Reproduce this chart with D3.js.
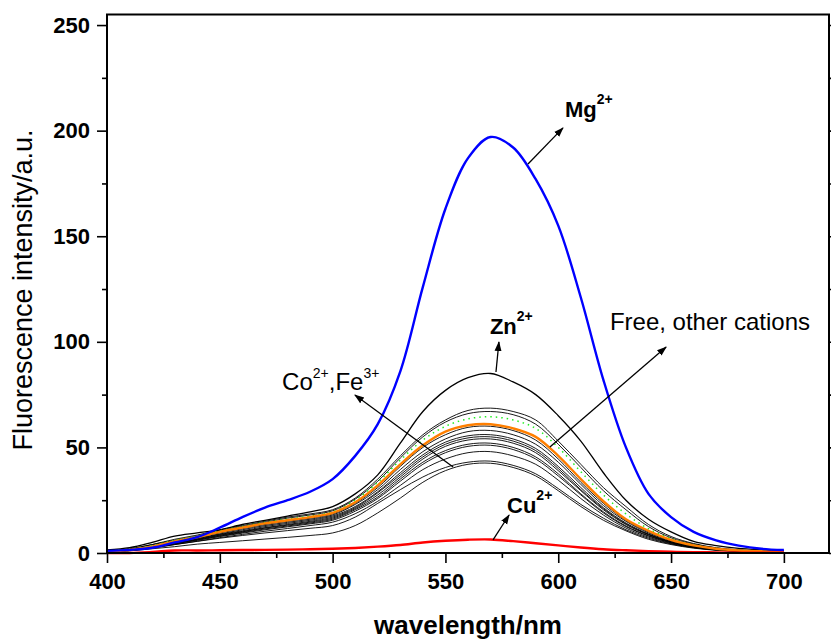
<!DOCTYPE html>
<html>
<head>
<meta charset="utf-8">
<script src="https://cdn.jsdelivr.net/npm/d3@7"></script>
<style>
  body { margin: 0; background: #fff; }
  svg { display: block; }
  text { font-family: "Liberation Sans", Arial, Helvetica, sans-serif; }
</style>
</head>
<body>
<div id="chart"></div>
<script>
// wavelengths (nm), one point every 10 nm
var wavelengths = [400, 410, 420, 430, 440, 450, 460, 470, 480, 490, 500,
  510, 520, 530, 540, 550, 560, 570, 580, 590, 600,
  610, 620, 630, 640, 650, 660, 670, 680, 690, 700];

var mg = [1, 1.5, 2.5, 5, 7.5, 12, 17, 21.5, 25, 29, 35,
  46, 61, 86, 126, 163, 187, 197, 192, 177, 155,
  121, 82, 50, 28, 17, 10, 6, 3.5, 2, 1.4];
var zn = [1.5, 2.5, 5, 8, 9.5, 11, 13.5, 15.5, 17.5, 19.5, 22,
  28, 37, 52, 67, 77, 83, 85, 81, 75, 65,
  53, 38, 25, 16, 10, 5.5, 3.5, 2.2, 1.5, 1];
var cu = [0, 0, 0.5, 1.2, 1.2, 1.3, 1.4, 1.5, 1.6, 1.8, 2,
  2.4, 3, 3.8, 5, 5.8, 6.3, 6.4, 5.6, 4.6, 3.6,
  2.6, 1.8, 1.3, 0.9, 0.6, 0.4, 0.3, 0.2, 0.1, 0.1];
var free = [0.5, 1.5, 3, 5.5, 7.5, 10, 12, 14, 15.5, 17, 19,
  24, 32, 42, 51, 57.5, 60.5, 61, 59, 55, 46,
  35, 24.5, 16, 10.5, 6.2, 3.6, 2, 1.2, 0.8, 0.5];
var dotted = [0.8, 1.8, 3.5, 6, 8, 10.5, 12.5, 14.5, 16, 17.5, 19.5,
  25, 33.5, 44, 53.5, 60, 63.5, 64.5, 63, 59, 50,
  38.5, 27.5, 18.5, 11.5, 6.8, 3.9, 2.2, 1.3, 0.8, 0.5];

// other cations (thin black)
var ionA = [1, 2, 4, 6.5, 8.5, 11, 13, 15, 17, 18.5, 20.5, 26, 35, 46, 56, 63, 67.5, 68.6, 67, 63, 53, 42, 31, 22, 13.5, 7.8, 4.5, 2.5, 1.5, 0.9, 0.6];
var ionB = [1, 2, 4, 6, 8, 10.5, 12.5, 14.5, 16.5, 18, 20, 25.5, 34, 45, 55, 62, 66, 67, 65.5, 61, 51.5, 40.5, 29.5, 20.5, 12.5, 7.2, 4.2, 2.4, 1.4, 0.9, 0.6];
var ionC = [0.8, 1.6, 3.2, 5.5, 7.5, 9.5, 11.5, 13.5, 15, 16.5, 18.5, 23.5, 31, 41, 50, 56, 59.5, 60, 58, 53.5, 44.5, 33.5, 23.5, 15.5, 10, 6, 3.4, 1.9, 1.1, 0.7, 0.5];
var ionD = [0.7, 1.5, 3, 5.2, 7, 9, 11, 13, 14.5, 16, 18, 23, 30, 39.5, 48, 54, 57.5, 58, 56, 51.5, 43, 32.5, 22.5, 15, 9.5, 5.7, 3.3, 1.9, 1.1, 0.7, 0.5];
var ionE = [0.7, 1.5, 3, 5, 6.8, 8.8, 10.5, 12.5, 14, 15.5, 17.5, 22, 29, 38, 46.5, 52.5, 55.5, 56, 54, 49.5, 41, 31, 21.5, 14.2, 9, 5.4, 3.1, 1.8, 1.1, 0.7, 0.5];
var ionF = [0.6, 1.4, 2.8, 4.8, 6.5, 8.5, 10.2, 12, 13.5, 15, 17, 21.5, 28.5, 37, 45.5, 51.5, 54.5, 55, 53, 48.5, 40, 30, 21, 13.8, 8.8, 5.2, 3, 1.7, 1, 0.6, 0.4];
var ionG = [0.6, 1.4, 2.8, 4.7, 6.4, 8.3, 10, 11.8, 13.2, 14.6, 16.5, 21, 27.5, 36, 44.5, 50.5, 53.5, 54, 52, 47.5, 39, 29.5, 20.5, 13.5, 8.6, 5.1, 2.9, 1.7, 1, 0.6, 0.4];
var ionH = [0.6, 1.3, 2.6, 4.5, 6.2, 8, 9.7, 11.4, 12.8, 14.2, 16, 20.5, 26.5, 35, 43, 48.5, 51.5, 52, 50, 45.5, 37.5, 28, 19.5, 12.8, 8.2, 4.9, 2.8, 1.6, 1, 0.6, 0.4];
var ionI = [0.5, 1.2, 2.5, 4.3, 6, 7.8, 9.4, 11, 12.4, 13.8, 15.5, 19.8, 25.8, 34, 42, 47.5, 50.5, 51, 49, 44.5, 36.5, 27.5, 19, 12.5, 8, 4.8, 2.7, 1.5, 0.9, 0.6, 0.4];
var ionJ = [0.5, 1.1, 2.3, 4, 5.6, 7.3, 8.8, 10.3, 11.6, 13, 14.6, 18.6, 24.5, 32, 39.5, 44.5, 47.5, 48, 46, 42, 34.5, 25.8, 18, 11.8, 7.5, 4.5, 2.6, 1.5, 0.9, 0.5, 0.3];
var co = [0.5, 1, 2, 3, 4.2, 5, 5.8, 6.6, 7.4, 8.3, 9.5, 13, 19, 26, 33.5, 39, 42, 42.5, 40.5, 36.5, 29.5, 22, 15.5, 10.5, 6.5, 4, 2.3, 1.3, 0.8, 0.5, 0.3];
var fe = [0.6, 1.3, 2.5, 4, 5.5, 7, 8.3, 9.5, 10.6, 11.7, 13, 17, 23.5, 30, 36, 40.5, 43, 43.5, 41.5, 37.5, 30.5, 23, 16.5, 11, 7, 4.3, 2.5, 1.4, 0.8, 0.5, 0.3];

var xTicks = [400, 450, 500, 550, 600, 650, 700];
var xMinor = [425, 475, 525, 575, 625, 675];
var yTicks = [0, 50, 100, 150, 200, 250];
var yMinor = [25, 75, 125, 175, 225];

var width = 831, height = 641;
var plotLeft = 107, plotRight = 829, plotTop = 14.5, plotBottom = 553;

var svg = d3.select('#chart').append('svg')
  .attr('width', width)
  .attr('height', height);

var x = d3.scaleLinear().domain([400, 720]).range([plotLeft, plotRight]);
var y = d3.scaleLinear().domain([0, 255]).range([plotBottom, plotTop]);

var line = d3.line()
  .x(function(d, i) { return x(wavelengths[i]); })
  .y(function(d) { return y(d); })
  .curve(d3.curveCatmullRom.alpha(0.5));

// black bundle first, coloured lines on top
var blackSeries = [ionA, ionB, ionC, ionD, ionE, ionF, ionG, ionH, ionI, ionJ, co, fe];
svg.append('g').selectAll('path')
  .data(blackSeries)
  .enter().append('path')
  .attr('d', line)
  .attr('fill', 'none')
  .attr('stroke', '#000')
  .attr('stroke-width', 0.9);

svg.append('path').attr('d', line(zn))
  .attr('fill', 'none').attr('stroke', '#000').attr('stroke-width', 1.3);
svg.append('path').attr('d', line(dotted))
  .attr('fill', 'none').attr('stroke', '#22ee22').attr('stroke-width', 1.5)
  .attr('stroke-dasharray', '1.5,4');
svg.append('path').attr('d', line(free))
  .attr('fill', 'none').attr('stroke', '#ff7f00').attr('stroke-width', 2.4);
svg.append('path').attr('d', line(cu))
  .attr('fill', 'none').attr('stroke', '#ff0000').attr('stroke-width', 2.4);
svg.append('path').attr('d', line(mg))
  .attr('fill', 'none').attr('stroke', '#0000ff').attr('stroke-width', 2.4);

// axes
var tickFont = function(g) {
  g.select('.domain').remove();
  g.selectAll('text')
    .style('font-size', '22px')
    .style('font-weight', 'bold')
    .attr('fill', '#000');
  g.selectAll('line').attr('stroke', '#000').attr('stroke-width', 1.6);
};

svg.append('g')
  .attr('transform', 'translate(0,' + plotBottom + ')')
  .call(d3.axisBottom(x).tickValues(xTicks).tickSize(10).tickPadding(10))
  .call(tickFont);
svg.append('g')
  .attr('transform', 'translate(0,' + plotBottom + ')')
  .call(d3.axisBottom(x).tickValues(xMinor).tickSize(5).tickFormat(''))
  .call(tickFont);
svg.append('g')
  .attr('transform', 'translate(' + plotLeft + ',0)')
  .call(d3.axisLeft(y).tickValues(yTicks).tickSize(10).tickPadding(7))
  .call(tickFont);
svg.append('g')
  .attr('transform', 'translate(' + plotLeft + ',0)')
  .call(d3.axisLeft(y).tickValues(yMinor).tickSize(5).tickFormat(''))
  .call(tickFont);
svg.append('g')
  .attr('transform', 'translate(' + plotRight + ',0)')
  .call(d3.axisRight(y).tickValues(yTicks).tickSize(10).tickFormat(''))
  .call(tickFont);
svg.append('g')
  .attr('transform', 'translate(' + plotRight + ',0)')
  .call(d3.axisRight(y).tickValues(yMinor).tickSize(5).tickFormat(''))
  .call(tickFont);

svg.append('rect')
  .attr('x', plotLeft).attr('y', plotTop)
  .attr('width', plotRight - plotLeft).attr('height', plotBottom - plotTop)
  .attr('fill', 'none')
  .attr('stroke', '#000')
  .attr('stroke-width', 2);

// axis titles
svg.append('text')
  .attr('x', (plotLeft + plotRight) / 2)
  .attr('y', 634)
  .attr('text-anchor', 'middle')
  .style('font-size', '26px')
  .style('font-weight', 'bold')
  .text('wavelength/nm');

svg.append('text')
  .attr('transform', 'translate(32,' + 290 + ') rotate(-90)')
  .attr('text-anchor', 'middle')
  .style('font-size', '27px')
  .text('Fluorescence intensity/a.u.');

// arrows
svg.append('defs').append('marker')
  .attr('id', 'head')
  .attr('viewBox', '0 0 10 10')
  .attr('refX', 9).attr('refY', 5)
  .attr('markerWidth', 10).attr('markerHeight', 10)
  .attr('markerUnits', 'userSpaceOnUse')
  .attr('orient', 'auto')
  .append('path')
  .attr('d', 'M0,1.5 L10,5 L0,8.5 Z')
  .attr('fill', '#000');

var arrows = [
  [586.6, 184.2, 602.1, 201.3],
  [572.4, 85.7, 573.7, 99.9],
  [553.4, 40.7, 509.9, 74.8],
  [596.3, 50.2, 647.8, 97.5],
  [571.1, 6.2, 578.2, 18.0]
];
svg.append('g').selectAll('line')
  .data(arrows)
  .enter().append('line')
  .attr('x1', function(d) { return x(d[0]); })
  .attr('y1', function(d) { return y(d[1]); })
  .attr('x2', function(d) { return x(d[2]); })
  .attr('y2', function(d) { return y(d[3]); })
  .attr('stroke', '#000')
  .attr('stroke-width', 1.3)
  .attr('marker-end', 'url(#head)');

// labels with superscripts
function ionLabel(wl, val, base, sup, bold) {
  var t = svg.append('text')
    .attr('x', x(wl)).attr('y', y(val))
    .style('font-size', bold ? '22px' : '24px')
    .style('font-weight', bold ? 'bold' : 'normal');
  t.append('tspan').text(base);
  t.append('tspan').attr('dy', -13).style('font-size', '14px').text(sup);
  return t;
}
ionLabel(603.0, 206.5, 'Mg', '2+', true);
ionLabel(569.7, 103.7, 'Zn', '2+', true);
ionLabel(577.3, 18.9, 'Cu', '2+', true);

var coFe = svg.append('text')
  .attr('x', x(477.6)).attr('y', y(77.2))
  .style('font-size', '24px');
coFe.append('tspan').text('Co');
coFe.append('tspan').attr('dy', -12).style('font-size', '14px').text('2+');
coFe.append('tspan').attr('dy', 12).text(',Fe');
coFe.append('tspan').attr('dy', -12).style('font-size', '14px').text('3+');

svg.append('text')
  .attr('x', x(622.9)).attr('y', y(105.6))
  .style('font-size', '24px')
  .text('Free, other cations');
</script>
</body>
</html>
